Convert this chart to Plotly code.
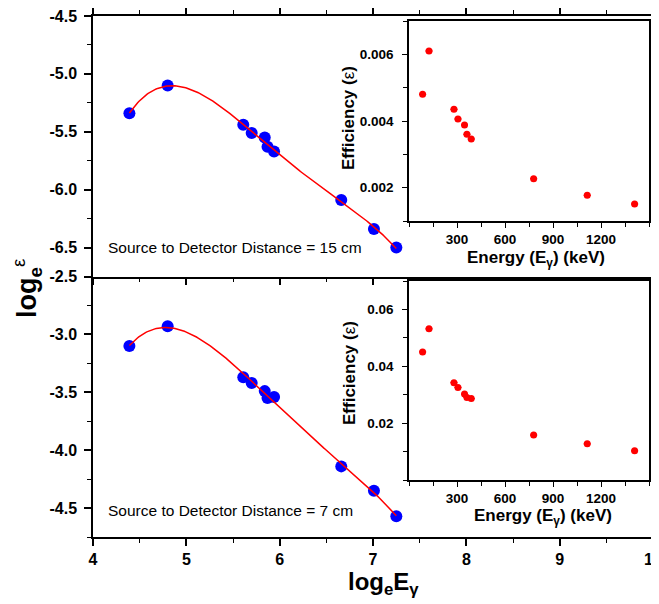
import numpy as np
import plotly.graph_objects as go

# ---- data ----
ln_E = [4.39, 4.80, 5.61, 5.70, 5.84, 5.87, 5.94, 6.66, 7.01, 7.25]
ln_eff_15 = [-5.34, -5.10, -5.44, -5.51, -5.55, -5.63, -5.67, -6.09, -6.34, -6.50]
ln_eff_7 = [-3.10, -2.93, -3.37, -3.42, -3.49, -3.55, -3.54, -4.14, -4.35, -4.57]

energy_keV = [85, 125, 281, 306, 347, 362, 389, 779, 1114, 1410]
eff_15 = [0.0048, 0.0061, 0.00435, 0.00406, 0.00388, 0.0036, 0.00346, 0.00227, 0.00177, 0.00151]
eff_7 = [0.0451, 0.0532, 0.0343, 0.0326, 0.0303, 0.0291, 0.0287, 0.0159, 0.0128, 0.01035]

main_x_ticks = [4, 5, 6, 7, 8, 9, 10]
top_y_ticks = [-6.5, -6.0, -5.5, -5.0, -4.5]
bot_y_ticks = [-4.5, -4.0, -3.5, -3.0, -2.5]
inset_x_ticks = [300, 600, 900, 1200]
inset15_y_ticks = [0.002, 0.004, 0.006]
inset7_y_ticks = [0.02, 0.04, 0.06]

FONT = "Liberation Sans, Arial, Helvetica, sans-serif"

# polynomial fit (ln eff vs ln E)
def fit_curve(x, y, deg=4):
    c = np.polyfit(x, y, deg)
    xs = np.linspace(min(x), max(x), 200)
    return xs, np.polyval(c, xs)

fx15, fy15 = fit_curve(ln_E, ln_eff_15)
fx7, fy7 = fit_curve(ln_E, ln_eff_7)

fig = go.Figure()

marker_main = dict(color="#0000ff", size=12, line=dict(width=0))
line_fit = dict(color="#ff0000", width=1.5)

fig.add_trace(go.Scatter(x=ln_E, y=ln_eff_15, mode="markers", marker=marker_main, xaxis="x", yaxis="y"))
fig.add_trace(go.Scatter(x=fx15, y=fy15, mode="lines", line=line_fit, xaxis="x", yaxis="y"))
fig.add_trace(go.Scatter(x=ln_E, y=ln_eff_7, mode="markers", marker=marker_main, xaxis="x2", yaxis="y2"))
fig.add_trace(go.Scatter(x=fx7, y=fy7, mode="lines", line=line_fit, xaxis="x2", yaxis="y2"))

marker_inset = dict(color="#ff0000", size=7, line=dict(width=0))
err = dict(type="constant", value=22, color="#ff0000", thickness=1.2, width=0)
fig.add_trace(go.Scatter(x=energy_keV, y=eff_15, mode="markers", marker=marker_inset,
                         error_x=err, xaxis="x3", yaxis="y3"))
fig.add_trace(go.Scatter(x=energy_keV, y=eff_7, mode="markers", marker=marker_inset,
                         error_x=err, xaxis="x4", yaxis="y4"))

tickfont_main = dict(family=FONT, size=16, color="black")
tickfont_inset = dict(family=FONT, size=13.5, color="black")

def bold(vals, fmt):
    return ["<b>" + format(v, fmt) + "</b>" for v in vals]

def main_axis(**kw):
    d = dict(showline=True, linecolor="black", linewidth=1.5, mirror="ticks",
             ticks="outside", ticklen=7, tickwidth=1.5, tickcolor="black",
             showgrid=False, zeroline=False, tickfont=tickfont_main, automargin=False,
             ticklabeloverflow="allow")
    d.update(kw)
    return d

def inset_axis(**kw):
    d = dict(showline=True, linecolor="black", linewidth=1.5, mirror=True,
             ticks="outside", ticklen=5, tickwidth=1.2, tickcolor="black",
             showgrid=False, zeroline=False, tickfont=tickfont_inset, automargin=False,
             ticklabeloverflow="allow")
    d.update(kw)
    return d

minor_main_x = dict(dtick=0.5, ticklen=4, ticks="outside", tickcolor="black", tickwidth=1.2)
minor_main_y = dict(dtick=0.25, ticklen=4, ticks="outside", tickcolor="black", tickwidth=1.2)

x_in_dom = [(409 - 93) / 560, (649 - 93) / 560]

# page has an 8px body margin, so the figure is offset by 8px; compensate
fig.update_layout(
    width=651, height=596,
    margin=dict(l=85, r=6, t=8, b=67, autoexpand=False),
    paper_bgcolor="white", plot_bgcolor="white",
    showlegend=False,
    font=dict(family=FONT, color="black"),
    xaxis=main_axis(domain=[0, 1], anchor="y", range=[4, 10], tickvals=main_x_ticks,
                    showticklabels=False, minor=minor_main_x),
    yaxis=main_axis(domain=[0.5, 1], anchor="x", range=[-6.75, -4.5], tickvals=top_y_ticks,
                    ticktext=bold(top_y_ticks, ".1f"), minor=minor_main_y, ticklabelstandoff=4),
    xaxis2=main_axis(domain=[0, 1], anchor="y2", range=[4, 10], tickvals=main_x_ticks,
                     ticktext=bold(main_x_ticks, "d"), minor=minor_main_x, mirror=False),
    yaxis2=main_axis(domain=[0, 0.5], anchor="x2", range=[-4.75, -2.5], tickvals=bot_y_ticks,
                     ticktext=bold(bot_y_ticks, ".1f"), minor=minor_main_y, ticklabelstandoff=4),
    xaxis3=inset_axis(domain=x_in_dom, anchor="y3", range=[0, 1500], tickvals=inset_x_ticks,
                      ticktext=bold(inset_x_ticks, "d"),
                      minor=dict(dtick=150, ticklen=4, ticks="outside", tickcolor="black")),
    yaxis3=inset_axis(domain=[(536 - 220) / 521, (536 - 20) / 521], anchor="x3",
                      range=[0.001, 0.007], tickvals=inset15_y_ticks,
                      ticktext=bold(inset15_y_ticks, ".3f"), ticklabelstandoff=6,
                      minor=dict(dtick=0.001, ticklen=4, ticks="outside", tickcolor="black")),
    xaxis4=inset_axis(domain=x_in_dom, anchor="y4", range=[0, 1500], tickvals=inset_x_ticks,
                      ticktext=bold(inset_x_ticks, "d"),
                      minor=dict(dtick=150, ticklen=4, ticks="outside", tickcolor="black")),
    yaxis4=inset_axis(domain=[(536 - 479.3) / 521, (536 - 280) / 521], anchor="x4",
                      range=[0, 0.07], tickvals=inset7_y_ticks,
                      ticktext=bold(inset7_y_ticks, ".2f"), ticklabelstandoff=6,
                      minor=dict(dtick=0.01, ticklen=4, ticks="outside", tickcolor="black")),
)

def px_x(px):
    return (px - 93) / 560

def px_y(py):
    return (536 - py) / 521

ann = []
ann.append(dict(text="<b>log<sub>e</sub>E<sub>γ</sub></b>", x=px_x(383), y=px_y(582), xref="paper", yref="paper",
                showarrow=False, xanchor="center", yanchor="middle",
                font=dict(family=FONT, size=24, color="black")))
ann.append(dict(text="<b>log<sub>e</sub></b><sup>ε</sup>",
                x=px_x(27), y=px_y(287), xref="paper", yref="paper", textangle=-90,
                showarrow=False, xanchor="center", yanchor="middle",
                font=dict(family=FONT, size=27, color="black")))
ann.append(dict(text="Source to Detector Distance = 15 cm", x=px_x(106), y=px_y(246),
                xref="paper", yref="paper", showarrow=False, xanchor="left", yanchor="middle",
                font=dict(family=FONT, size=15.5, color="black")))
ann.append(dict(text="Source to Detector Distance = 7 cm", x=px_x(106), y=px_y(509),
                xref="paper", yref="paper", showarrow=False, xanchor="left", yanchor="middle",
                font=dict(family=FONT, size=15.5, color="black")))
for cy, cx in [(258, 536), (516, 543)]:
    ann.append(dict(text="<b>Energy (E<sub>γ</sub>) (keV)</b>", x=px_x(cx), y=px_y(cy),
                    xref="paper", yref="paper", showarrow=False, xanchor="center", yanchor="middle",
                    font=dict(family=FONT, size=17, color="black")))
for cy, cx in [(117, 348), (372, 350)]:
    ann.append(dict(text="<b>Efficiency (</b>ε<b>)</b>", x=px_x(cx), y=px_y(cy),
                    xref="paper", yref="paper", showarrow=False, xanchor="center", yanchor="middle",
                    textangle=-90,
                    font=dict(family=FONT, size=17, color="black")))
fig.update_layout(annotations=ann)

fig.write_html("out.html")
